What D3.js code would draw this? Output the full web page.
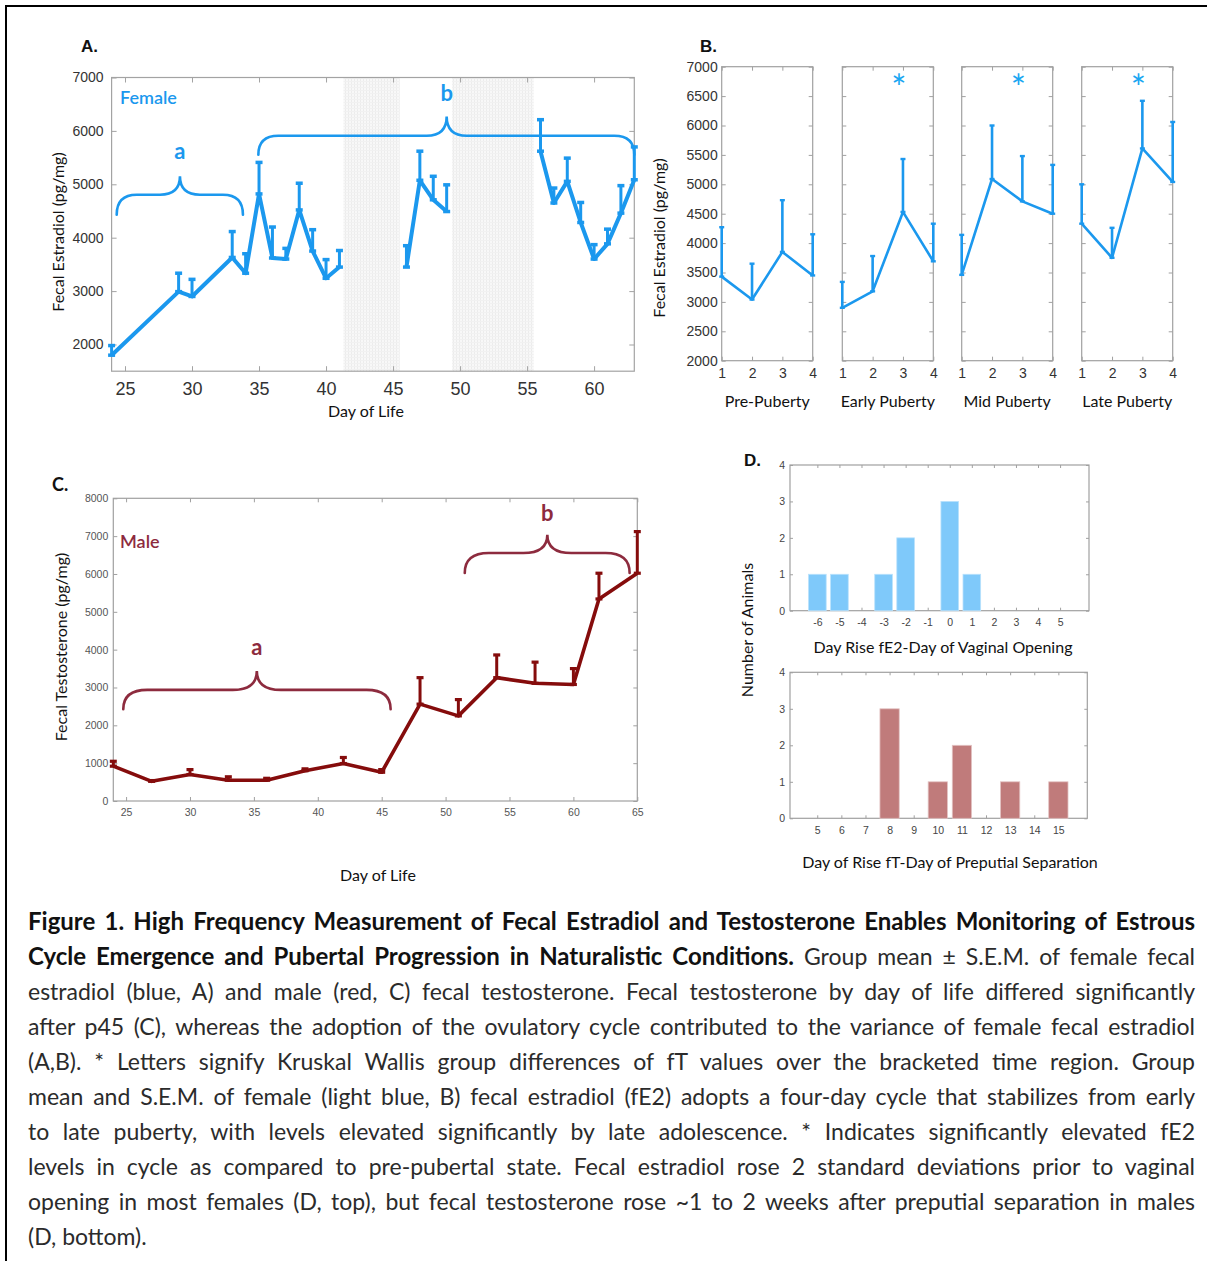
<!DOCTYPE html>
<html>
<head>
<meta charset="utf-8">
<script src="https://cdn.jsdelivr.net/npm/d3@7"></script>
<style>
  html, body { margin: 0; padding: 0; background: #fff; }
  svg { display: block; }
</style>
</head>
<body>
<svg id="fig" width="1207" height="1261"></svg>
<script>
// ---------- Panel A: female fecal estradiol by day of life ----------
const femaleDays  = [24, 29, 30, 33, 34, 35, 36, 37, 38, 39, 40, 41, 46, 47, 48, 49, 56, 57, 58, 59, 60, 61, 62, 63];
const femaleMean  = [1800, 2990, 2900, 3630, 3335, 4820, 3620, 3600, 4520, 3750, 3240, 3450, 3450, 5075, 4710, 4490, 5620, 4650, 5055, 4285, 3600, 3885, 4460, 5085];
const femaleUpper = [1980, 3335, 3220, 4115, 3700, 5410, 4200, 3800, 5020, 4150, 3590, 3760, 3850, 5620, 5150, 4990, 6210, 4930, 5490, 4660, 3870, 4160, 4975, 5700];
// Days with no sampling (shaded)
const unsampledBands = [[41.3, 45.5], [49.4, 55.5]];
const femaleDayTicks = [25, 30, 35, 40, 45, 50, 55, 60];
const estradiolTicks = [2000, 3000, 4000, 5000, 6000, 7000];

// ---------- Panel B: estradiol over the four-day cycle by stage ----------
const stageNames = ["Pre-Puberty", "Early Puberty", "Mid Puberty", "Late Puberty"];
const cycleDays = [1, 2, 3, 4];
const prePubertyMean  = [3430, 3040, 3850, 3450];
const prePubertyUpper = [4270, 3650, 4730, 4150];
const earlyPubertyMean  = [2900, 3180, 4530, 3690];
const earlyPubertyUpper = [3340, 3780, 5430, 4330];
const midPubertyMean  = [3460, 5090, 4710, 4500];
const midPubertyUpper = [4140, 6000, 5480, 5330];
const latePubertyMean  = [4330, 3750, 5610, 5040];
const latePubertyUpper = [5000, 4260, 6420, 6060];
const stageSignificant = [false, true, true, true];
const cycleEstradiolTicks = [2000, 2500, 3000, 3500, 4000, 4500, 5000, 5500, 6000, 6500, 7000];

// ---------- Panel C: male fecal testosterone by day of life ----------
const maleDays  = [24, 27, 30, 33, 36, 39, 42, 45, 48, 51, 54, 57, 60, 62, 65];
const maleMean  = [920, 520, 700, 550, 550, 800, 990, 760, 2560, 2250, 3260, 3110, 3080, 5340, 6020];
const maleUpper = [1050, 540, 830, 640, 600, 850, 1150, 830, 3260, 2680, 3860, 3670, 3500, 6020, 7120];
const maleDayTicks = [25, 30, 35, 40, 45, 50, 55, 60, 65];
const testosteroneTicks = [0, 1000, 2000, 3000, 4000, 5000, 6000, 7000, 8000];

// ---------- Panel D: timing of hormone rise relative to puberty markers ----------
const vaginalOffsets = [-6, -5, -4, -3, -2, -1, 0, 1, 2, 3, 4, 5];
const vaginalCounts  = [1, 1, 0, 1, 2, 0, 3, 1, 0, 0, 0, 0];
const preputialOffsets = [5, 6, 7, 8, 9, 10, 11, 12, 13, 14, 15];
const preputialCounts  = [0, 0, 0, 3, 0, 1, 2, 0, 1, 0, 1];
const animalTicks = [0, 1, 2, 3, 4];

// ---------- Caption ----------
const captionLines = [
  [["Figure 1. High Frequency Measurement of Fecal Estradiol and Testosterone Enables Monitoring of Estrous", true]],
  [["Cycle Emergence and Pubertal Progression in Naturalistic Conditions.", true], ["Group mean ± S.E.M. of female fecal", false]],
  [["estradiol (blue, A) and male (red, C) fecal testosterone. Fecal testosterone by day of life differed significantly", false]],
  [["after p45 (C), whereas the adoption of the ovulatory cycle contributed to the variance of female fecal estradiol", false]],
  [["(A,B). * Letters signify Kruskal Wallis group differences of fT values over the bracketed time region. Group", false]],
  [["mean and S.E.M. of female (light blue, B) fecal estradiol (fE2) adopts a four-day cycle that stabilizes from early", false]],
  [["to late puberty, with levels elevated significantly by late adolescence. * Indicates significantly elevated fE2", false]],
  [["levels in cycle as compared to pre-pubertal state. Fecal estradiol rose 2 standard deviations prior to vaginal", false]],
  [["opening in most females (D, top), but fecal testosterone rose ~1 to 2 weeks after preputial separation in males", false]],
  [["(D, bottom).", false]]
];

// ---------- Styling ----------
const BLUE = "#1b98ee";
const BLUE_STAR = "#19a6f2";
const DARK_RED = "#850c0c";
const MAROON = "#8d2b3e";
const BAR_BLUE = "#7fc9fa";
const BAR_RED = "#c07b7b";
const LABEL_FONT = "Lato, 'Open Sans', sans-serif";
const TICK_FONT = "'Liberation Sans', Arial, sans-serif";

const svg = d3.select("#fig");
const defs = svg.append("defs");

// Outer figure border (left and top edges visible)
svg.append("rect").attr("x", 6).attr("y", 6).attr("width", 1400).attr("height", 1400)
  .attr("fill", "none").attr("stroke", "#000").attr("stroke-width", 2);

// Hatched fill for unsampled days
const pat = defs.append("pattern").attr("id", "unsampled")
  .attr("width", 3).attr("height", 3).attr("patternUnits", "userSpaceOnUse");
pat.append("rect").attr("width", 3).attr("height", 3).attr("fill", "#f8f8f8");
pat.append("rect").attr("width", 1).attr("height", 3).attr("fill", "#ececec");
pat.append("rect").attr("width", 3).attr("height", 1).attr("fill", "#f1f1f1");

// Box axes with inward ticks on all four sides
function boxAxes(g, x, y, o) {
  const [x0, x1] = x.range();
  const [yb, yt] = y.range();
  const t = o.tick || 4;
  const fmt = d => String(d);
  const styleTicks = sel => {
    sel.select(".domain").remove();
    sel.selectAll(".tick line").attr("stroke", o.frame);
    sel.selectAll(".tick text").attr("font-family", TICK_FONT).attr("fill", o.textColor || "#333");
  };
  if (o.xTicks) {
    const b = g.append("g").attr("transform", `translate(0,${yb})`)
      .call(d3.axisBottom(x).tickValues(o.xTicks).tickSizeInner(-t).tickSizeOuter(0)
        .tickPadding(o.xPad).tickFormat(o.xLabels === false ? "" : fmt));
    styleTicks(b);
    b.selectAll(".tick text").attr("font-size", o.xSize);
    g.append("g").attr("transform", `translate(0,${yt})`)
      .call(d3.axisTop(x).tickValues(o.xTicks).tickSizeInner(-t).tickSizeOuter(0).tickFormat(""))
      .call(styleTicks);
  }
  const l = g.append("g").attr("transform", `translate(${x0},0)`)
    .call(d3.axisLeft(y).tickValues(o.yTicks).tickSizeInner(-t).tickSizeOuter(0)
      .tickPadding(o.yPad).tickFormat(o.yLabels === false ? "" : fmt));
  styleTicks(l);
  l.selectAll(".tick text").attr("font-size", o.ySize);
  g.append("g").attr("transform", `translate(${x1},0)`)
    .call(d3.axisRight(y).tickValues(o.yTicks).tickSizeInner(-t).tickSizeOuter(0).tickFormat(""))
    .call(styleTicks);
  g.append("rect").attr("x", x0).attr("y", yt).attr("width", x1 - x0).attr("height", yb - yt)
    .attr("fill", "none").attr("stroke", o.frame).attr("stroke-width", 1.2);
}

// Upward-only S.E.M. whiskers with caps
function errorBars(g, xs, mean, upper, x, y, o) {
  const eb = g.append("g").attr("stroke", o.color).attr("stroke-width", o.width).attr("fill", "none");
  xs.forEach((d, i) => {
    const cx = x(d), y0 = y(mean[i]), y1 = y(upper[i]);
    eb.append("line").attr("x1", cx).attr("x2", cx).attr("y1", y0).attr("y2", y1);
    eb.append("line").attr("x1", cx - o.cap).attr("x2", cx + o.cap).attr("y1", y1).attr("y2", y1).attr("stroke-width", o.capWidth);
    eb.append("line").attr("x1", cx - o.cap).attr("x2", cx + o.cap).attr("y1", y0).attr("y2", y0).attr("stroke-width", o.capWidth);
  });
}

// Curly bracket: ends at yEnd, runs along yLevel, with a pointed tip at (xTip, yTip)
function brace(g, x1, x2, xTip, yEnd, yLevel, yTip, color, r) {
  const p = d3.path();
  p.moveTo(x1, yEnd);
  p.quadraticCurveTo(x1, yLevel, x1 + r, yLevel);
  p.lineTo(xTip - r, yLevel);
  p.quadraticCurveTo(xTip, yLevel, xTip, yTip);
  p.quadraticCurveTo(xTip, yLevel, xTip + r, yLevel);
  p.lineTo(x2 - r, yLevel);
  p.quadraticCurveTo(x2, yLevel, x2, yEnd);
  g.append("path").attr("d", p.toString()).attr("fill", "none")
    .attr("stroke", color).attr("stroke-width", 2.6).attr("stroke-linecap", "round");
}

function text(g, x, y, s, o) {
  const t = g.append("text").attr("x", x).attr("y", y).text(s)
    .attr("font-family", o.family || LABEL_FONT).attr("font-size", o.size)
    .attr("fill", o.fill || "#111").attr("text-anchor", o.anchor || "start");
  if (o.weight) t.attr("font-weight", o.weight);
  return t;
}
function vtext(g, cx, cy, s, o) {
  return g.append("text").attr("transform", `translate(${cx},${cy}) rotate(-90)`)
    .attr("text-anchor", "middle").attr("dominant-baseline", "central").text(s)
    .attr("font-family", LABEL_FONT).attr("font-size", o.size).attr("fill", o.fill || "#111");
}

// ================= Panel A =================
{
  const g = svg.append("g");
  const x = d3.scaleLinear().domain([24, 63]).range([111.6, 634.3]);
  const y = d3.scaleLinear().domain([1500, 7000]).range([371.2, 77.5]);

  g.selectAll("rect.band").data(unsampledBands).join("rect").attr("class", "band")
    .attr("x", d => x(d[0])).attr("width", d => x(d[1]) - x(d[0]))
    .attr("y", y(7000)).attr("height", y(1500) - y(7000)).attr("fill", "url(#unsampled)");

  boxAxes(g, x, y, { xTicks: femaleDayTicks, yTicks: estradiolTicks, frame: "#a3a3a3",
    xPad: 11, yPad: 8, xSize: 18, ySize: 14, tick: 5, textColor: "#333" });

  // split the series where an unsampled band lies between consecutive days
  const pts = femaleDays.map((d, i) => ({ d, m: femaleMean[i] }));
  const runs = [[]];
  pts.forEach((p, i) => {
    if (i > 0 && unsampledBands.some(b => pts[i - 1].d < b[0] && p.d > b[1])) runs.push([]);
    runs[runs.length - 1].push(p);
  });
  const line = d3.line().x(p => x(p.d)).y(p => y(p.m));
  g.selectAll("path.run").data(runs).join("path").attr("class", "run").attr("d", line)
    .attr("fill", "none").attr("stroke", BLUE).attr("stroke-width", 4).attr("stroke-linejoin", "round");
  errorBars(g, femaleDays, femaleMean, femaleUpper, x, y, { color: BLUE, width: 3, cap: 3.5, capWidth: 3.5 });

  brace(g, x(24.38), x(33.8), x(29.1), y(4430), y(4805), y(5150), BLUE, 20);
  brace(g, x(34.95), x(63.0), x(49.0), y(5555), y(5910), y(6270), BLUE, 20);
  text(g, x(29.1), y(5150) - 17, "a", { size: 22, weight: 700, fill: BLUE, anchor: "middle" });
  text(g, x(49.0), y(6270) - 15, "b", { size: 22, weight: 700, fill: BLUE, anchor: "middle" });

  text(g, 120, 104, "Female", { size: 18, weight: 600, fill: BLUE });
  text(g, 81, 52, "A.", { size: 17, weight: 700, family: TICK_FONT });
  text(g, 366, 417, "Day of Life", { size: 16, anchor: "middle" });
  vtext(g, 57, 232, "Fecal Estradiol (pg/mg)", { size: 16 });
}

// ================= Panel B =================
{
  const g = svg.append("g");
  const lefts = [721.7, 842.3, 961.7, 1081.7];
  const panelW = 91;
  const stageMeans = [prePubertyMean, earlyPubertyMean, midPubertyMean, latePubertyMean];
  const stageUppers = [prePubertyUpper, earlyPubertyUpper, midPubertyUpper, latePubertyUpper];
  const y = d3.scaleLinear().domain([2000, 7000]).range([360.7, 66.7]);

  stageNames.forEach((name, k) => {
    const x = d3.scaleLinear().domain([1, 4]).range([lefts[k], lefts[k] + panelW]);
    boxAxes(g, x, y, { xTicks: cycleDays, yTicks: cycleEstradiolTicks, frame: "#a0a0a0",
      xPad: 7, yPad: 4, xSize: 14, ySize: 14, tick: 4, yLabels: k === 0, textColor: "#333" });
    const line = d3.line().x((d, i) => x(cycleDays[i])).y(d => y(d));
    g.append("path").attr("d", line(stageMeans[k])).attr("fill", "none")
      .attr("stroke", BLUE).attr("stroke-width", 2.6).attr("stroke-linejoin", "round");
    errorBars(g, cycleDays, stageMeans[k], stageUppers[k], x, y, { color: BLUE, width: 2.6, cap: 2.5, capWidth: 2.4 });
    if (stageSignificant[k]) {
      text(g, x(3) - 4, 101, "*", { size: 36, fill: BLUE_STAR, anchor: "middle", family: LABEL_FONT, weight: 400 });
    }
    text(g, x(2.5), 407, name, { size: 16, anchor: "middle" });
  });

  text(g, 700, 52, "B.", { size: 17, weight: 700, family: TICK_FONT });
  vtext(g, 658, 238, "Fecal Estradiol (pg/mg)", { size: 16 });
}

// ================= Panel C =================
{
  const g = svg.append("g");
  const x = d3.scaleLinear().domain([24, 65]).range([113.3, 637.3]);
  const y = d3.scaleLinear().domain([0, 8000]).range([801, 498.3]);

  boxAxes(g, x, y, { xTicks: maleDayTicks, yTicks: testosteroneTicks, frame: "#a0a0a0",
    xPad: 8, yPad: 5, xSize: 10.5, ySize: 10.5, tick: 4, textColor: "#555" });

  const line = d3.line().x((d, i) => x(maleDays[i])).y(d => y(d));
  g.append("path").attr("d", line(maleMean)).attr("fill", "none")
    .attr("stroke", DARK_RED).attr("stroke-width", 3.6).attr("stroke-linejoin", "round");
  errorBars(g, maleDays, maleMean, maleUpper, x, y, { color: DARK_RED, width: 3, cap: 3.5, capWidth: 3.2 });

  brace(g, x(24.78), x(45.7), x(35.23), y(2426), y(2937), y(3439), MAROON, 24);
  brace(g, x(51.5), x(64.4), x(57.96), y(6024), y(6553), y(7037), MAROON, 24);
  text(g, x(35.23), y(3439) - 16, "a", { size: 22, weight: 700, fill: MAROON, anchor: "middle" });
  text(g, x(57.96), y(7037) - 14, "b", { size: 22, weight: 700, fill: MAROON, anchor: "middle" });

  text(g, 120, 548, "Male", { size: 18, weight: 600, fill: MAROON });
  text(g, 52, 491, "C.", { size: 18, weight: 700 });
  text(g, 378, 881, "Day of Life", { size: 16, anchor: "middle" });
  vtext(g, 60, 647, "Fecal Testosterone (pg/mg)", { size: 16 });
}

// ================= Panel D =================
{
  const g = svg.append("g");
  // top: rise in fE2 relative to vaginal opening
  const xT = d3.scaleLinear().domain([-7.24, 6.31]).range([790, 1089]);
  const yT = d3.scaleLinear().domain([0, 4]).range([610.7, 465]);
  boxAxes(g, xT, yT, { xTicks: vaginalOffsets, yTicks: animalTicks, frame: "#a0a0a0",
    xPad: 8, yPad: 5, xSize: 10.5, ySize: 10.5, tick: 3, textColor: "#444" });
  const bwT = xT(0.4) - xT(-0.4);
  g.selectAll("rect.vo").data(vaginalCounts).join("rect").attr("class", "vo")
    .attr("x", (d, i) => xT(vaginalOffsets[i]) - bwT / 2).attr("width", bwT)
    .attr("y", d => yT(d)).attr("height", d => yT(0) - yT(d))
    .attr("fill", BAR_BLUE).attr("stroke", "#b9e2fc").attr("stroke-width", 0.8);

  // bottom: rise in fT relative to preputial separation
  const xB = d3.scaleLinear().domain([3.87, 16.2]).range([790, 1087.3]);
  const yB = d3.scaleLinear().domain([0, 4]).range([818.3, 672.3]);
  boxAxes(g, xB, yB, { xTicks: preputialOffsets, yTicks: animalTicks, frame: "#a0a0a0",
    xPad: 8, yPad: 5, xSize: 10.5, ySize: 10.5, tick: 3, textColor: "#444" });
  const bwB = xB(0.4) - xB(-0.4);
  g.selectAll("rect.ps").data(preputialCounts).join("rect").attr("class", "ps")
    .attr("x", (d, i) => xB(preputialOffsets[i]) - bwB / 2).attr("width", bwB)
    .attr("y", d => yB(d)).attr("height", d => yB(0) - yB(d))
    .attr("fill", BAR_RED).attr("stroke", "#e3c4c4").attr("stroke-width", 0.8);

  text(g, 744, 466, "D.", { size: 17, weight: 700, family: TICK_FONT });
  text(g, 943, 653, "Day Rise fE2-Day of Vaginal Opening", { size: 16, anchor: "middle" });
  text(g, 950, 868, "Day of Rise fT-Day of Preputial Separation", { size: 16, anchor: "middle" });
  vtext(g, 746, 630, "Number of Animals", { size: 16 });
}

// ================= Caption (justified through word-spacing) =================
{
  const left = 28, right = 1195, top = 930, lead = 35;
  const boldSize = 24, bodySize = 23;
  const g = svg.append("g");
  captionLines.forEach((segs, li) => {
    const t = g.append("text").attr("x", left).attr("y", top + li * lead)
      .attr("font-family", LABEL_FONT).attr("xml:space", "preserve");
    segs.forEach(([s, bold], si) => {
      t.append("tspan").text((si > 0 ? " " : "") + s)
        .attr("font-size", bold ? boldSize : bodySize)
        .attr("font-weight", bold ? 700 : 400)
        .attr("fill", bold ? "#111" : "#2b2b2b");
    });
    const last = li === captionLines.length - 1;
    if (!last) {
      const spaces = segs.map(d => d[0]).join(" ").split(" ").length - 1;
      const natural = t.node().getComputedTextLength();
      t.attr("word-spacing", (right - left - natural) / spaces);
    }
  });
}
</script>
</body>
</html>
